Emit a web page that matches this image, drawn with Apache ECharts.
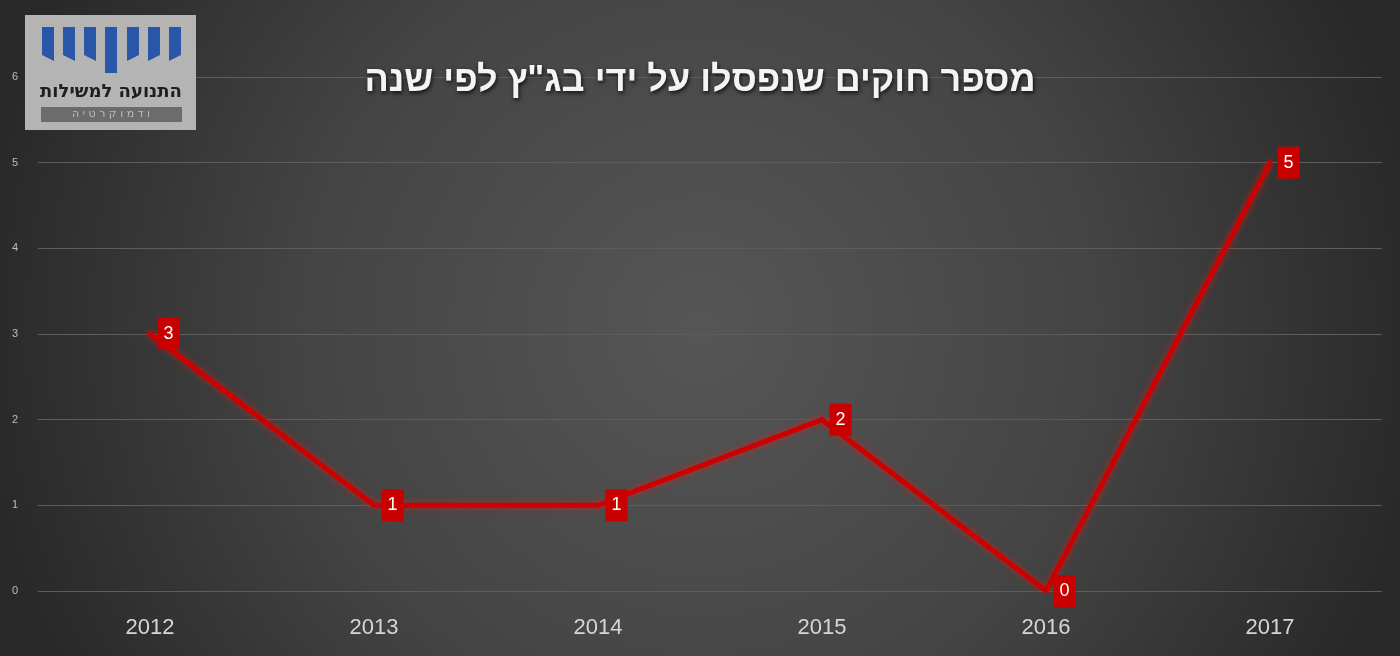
<!DOCTYPE html>
<html dir="ltr">
<head>
<meta charset="utf-8">
<script src="https://cdn.jsdelivr.net/npm/echarts@6/dist/echarts.min.js"></script>
<style>html,body{margin:0;padding:0;background:#2b2b2b;}#c{width:1400px;height:656px;}</style>
</head>
<body>
<div id="c"></div>
<script>
const titleText = 'מספר חוקים שנפסלו על ידי בג"ץ לפי שנה';
const years = ['2012', '2013', '2014', '2015', '2016', '2017'];
const lawsStruck = [3, 1, 1, 2, 0, 5];
const yTicks = [0, 1, 2, 3, 4, 5, 6];
const logoTitle = 'התנועה למשילות';
const logoSub = 'ו ד מ ו ק ר ט י ה';

const chart = echarts.init(document.getElementById('c'), null, {renderer: 'canvas'});

// logo bars (relative to logo box)
const barXs = [17, 38, 59, 80, 102, 123, 144];
const logoChildren = [
  {type: 'rect', z: 100, shape: {x: 0, y: 0, width: 171, height: 115}, style: {fill: '#b4b4b4'}}
];
barXs.forEach((bx, i) => {
  let pts;
  const w = 12, top = 12;
  if (i === 3) {
    pts = [[bx, top], [bx + w, top], [bx + w, 58], [bx, 58]];
  } else if (i < 3) {
    pts = [[bx, top], [bx + w, top], [bx + w, 46], [bx, 40]];
  } else {
    pts = [[bx, top], [bx + w, top], [bx + w, 40], [bx, 46]];
  }
  logoChildren.push({type: 'polygon', z: 101, shape: {points: pts}, style: {fill: '#2a56a8'}});
});
logoChildren.push({
  type: 'text', z: 101, x: 86, y: 77,
  style: {text: logoTitle, fill: '#1e1e1e', font: 'bold 18px "DejaVu Sans", "Liberation Sans"', align: 'center', verticalAlign: 'middle'}
});
logoChildren.push({type: 'rect', z: 101, shape: {x: 16, y: 92, width: 141, height: 15}, style: {fill: '#6c6c6c'}});
logoChildren.push({
  type: 'text', z: 102, x: 86, y: 99.5,
  style: {text: logoSub, fill: '#bdbdbd', font: '11px "DejaVu Sans", "Liberation Sans"', align: 'center', verticalAlign: 'middle'}
});

const option = {
  backgroundColor: {
    type: 'radial', x: 0.5, y: 0.5, r: 1.1,
    colorStops: [
      {offset: 0, color: '#565656'},
      {offset: 0.55, color: '#444444'},
      {offset: 1, color: '#292929'}
    ]
  },
  title: {
    text: titleText,
    left: 'center',
    top: 58,
    textStyle: {
      color: '#f4f4f4',
      fontSize: 36,
      fontWeight: 'bold',
      fontFamily: '"Liberation Sans", "DejaVu Sans", Arial, sans-serif',
      textShadowColor: 'rgba(0,0,0,0.8)',
      textShadowBlur: 4,
      textShadowOffsetX: 1,
      textShadowOffsetY: 2
    }
  },
  grid: {left: 38, right: 18, top: 77, bottom: 65, containLabel: false},
  xAxis: {
    type: 'category',
    data: years,
    boundaryGap: true,
    axisLine: {show: false},
    axisTick: {show: false},
    axisLabel: {
      color: '#d6d6d6', fontSize: 22, margin: 26,
      fontFamily: '"Liberation Sans", Arial, sans-serif'
    }
  },
  yAxis: {
    type: 'value',
    min: yTicks[0],
    max: yTicks[yTicks.length - 1],
    interval: 1,
    axisLine: {show: false},
    axisTick: {show: false},
    axisLabel: {
      color: '#bdbdbd', fontSize: 11, margin: 20,
      fontFamily: '"Liberation Sans", Arial, sans-serif'
    },
    splitLine: {lineStyle: {color: '#5d5d5d', width: 1}}
  },
  series: [{
    type: 'line',
    data: lawsStruck,
    symbol: 'circle',
    symbolSize: 3,
    itemStyle: {color: '#cc0000'},
    lineStyle: {
      color: '#cc0000', width: 5, cap: 'round', join: 'miter',
      shadowColor: 'rgba(255,20,20,0.6)', shadowBlur: 7
    },
    label: {
      show: true,
      position: 'right',
      distance: 6,
      backgroundColor: '#c80000',
      color: '#ffffff',
      fontSize: 18,
      lineHeight: 18,
      padding: [7, 6],
      fontFamily: '"Liberation Sans", Arial, sans-serif'
    },
    emphasis: {disabled: true},
    animation: false
  }],
  graphic: [{
    type: 'group', left: 25, top: 15, z: 100,
    children: logoChildren
  }],
  animation: false
};
chart.setOption(option);
</script>
</body>
</html>
